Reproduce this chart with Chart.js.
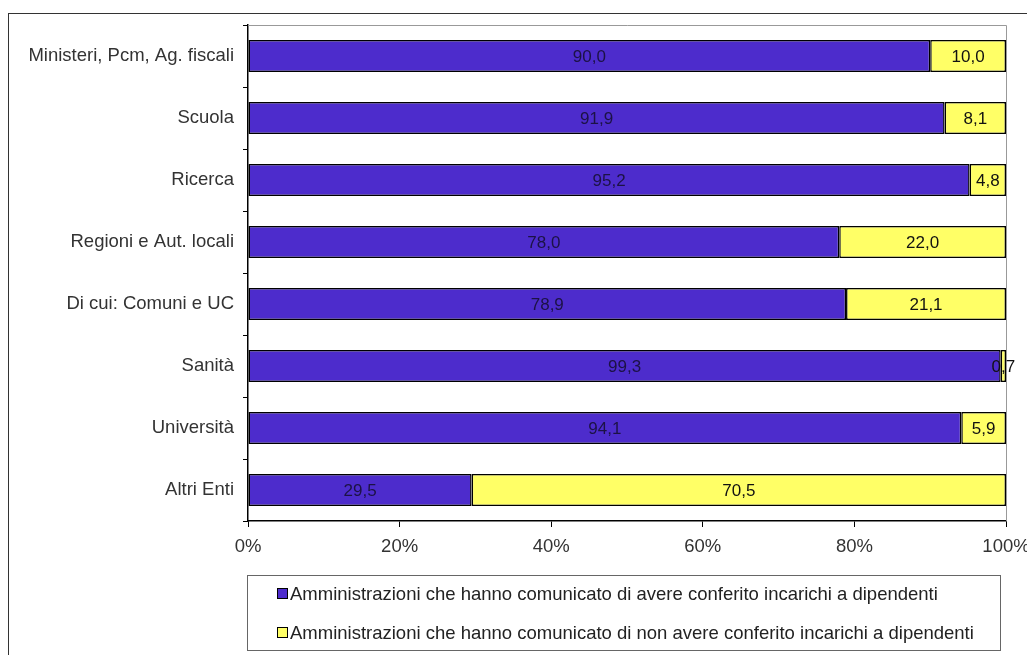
<!DOCTYPE html>
<html>
<head>
<meta charset="utf-8">
<script src="https://cdn.jsdelivr.net/npm/chart.js@4.4.0/dist/chart.umd.min.js"></script>
<style>
  body { margin: 0; background: #fff; font-family: "Liberation Sans", Arial, sans-serif; }
  #wrap { position: relative; width: 1027px; height: 655px; overflow: hidden; }
  #frame { position: absolute; left: 8px; top: 13px; width: 1100px; height: 700px;
           border-left: 1.5px solid #333; border-top: 1.5px solid #333; }
  #legend { position: absolute; left: 247px; top: 575px; width: 754px; height: 76px;
            border: 1px solid #666; box-sizing: border-box; padding: 6px 0 0 29px; }
  .item { height: 39px; line-height: 24px; font-size: 18.5px; color: #222; white-space: nowrap; }
  .sw { display: inline-block; width: 9px; height: 9px; border: 1.5px solid #000; margin-right: 2px; vertical-align: 1px; }
</style>
</head>
<body>
<div id="wrap">
  <div id="frame"></div>
  <canvas id="myChart" width="1027" height="655"></canvas>
  <div id="legend"></div>
</div>
<script>
var categories = ["Ministeri, Pcm, Ag. fiscali", "Scuola", "Ricerca", "Regioni e Aut. locali",
  "Di cui: Comuni e UC", "Sanità", "Università", "Altri Enti"];
var conferito = [90.0, 91.9, 95.2, 78.0, 78.9, 99.3, 94.1, 29.5];
var nonConferito = [10.0, 8.1, 4.8, 22.0, 21.1, 0.7, 5.9, 70.5];
var seriesNames = ["Amministrazioni che hanno comunicato di avere conferito incarichi a dipendenti",
  "Amministrazioni che hanno comunicato di non avere conferito incarichi a dipendenti"];
var xTicks = [0, 20, 40, 60, 80, 100];

var purple = "#4d2ccc";
var yellow = "#ffff66";
var font = "'Liberation Sans', Arial, sans-serif";

// etichette al centro di ogni segmento
var valueLabels = {
  id: "valueLabels",
  afterDatasetsDraw: function(chart) {
    var ctx = chart.ctx;
    ctx.save();
    ctx.font = "17px " + font;
    ctx.textAlign = "center";
    ctx.textBaseline = "middle";
    chart.data.datasets.forEach(function(ds, i) {
      var meta = chart.getDatasetMeta(i);
      meta.data.forEach(function(bar, j) {
        var cx = (bar.x + bar.base) / 2;
        ctx.fillStyle = i === 0 ? "#1c1245" : "#111";
        ctx.fillText(ds.data[j].toFixed(1).replace(".", ","), cx, bar.y + 1);
      });
    });
    ctx.restore();
  }
};

// bordo grigio sopra e a destra dell'area del grafico
var plotBorder = {
  id: "plotBorder",
  beforeDatasetsDraw: function(chart) {
    var a = chart.chartArea;
    var ctx = chart.ctx;
    ctx.save();
    ctx.strokeStyle = "#999";
    ctx.lineWidth = 1;
    ctx.beginPath();
    ctx.moveTo(a.left, a.top + 0.5);
    ctx.lineTo(a.right + 0.5, a.top + 0.5);
    ctx.lineTo(a.right + 0.5, a.bottom);
    ctx.stroke();
    ctx.restore();
  }
};

var ctx = document.getElementById("myChart").getContext("2d");
var chart = new Chart(ctx, {
  type: "bar",
  data: {
    labels: categories,
    datasets: [{
      label: seriesNames[0],
      data: conferito,
      backgroundColor: purple,
      borderColor: "#000",
      borderWidth: 1.5,
      borderSkipped: false,
      barPercentage: 0.52,
      categoryPercentage: 1
    }, {
      label: seriesNames[1],
      data: nonConferito,
      backgroundColor: yellow,
      borderColor: "#000",
      borderWidth: 1.5,
      borderSkipped: false,
      barPercentage: 0.52,
      categoryPercentage: 1
    }]
  },
  plugins: [plotBorder, valueLabels],
  options: {
    indexAxis: "y",
    responsive: false,
    animation: false,
    layout: { padding: { left: 10, right: 21, top: 25, bottom: 94 } },
    plugins: {
      legend: { display: false },
      tooltip: { enabled: false }
    },
    scales: {
      x: {
        stacked: true,
        min: 0,
        max: 100,
        afterFit: function(scale) {
          scale.height = 40;
          scale.paddingLeft = 0;
          scale.paddingRight = 0;
        },
        afterBuildTicks: function(scale) {
          scale.ticks = xTicks.map(function(v) { return { value: v }; });
        },
        ticks: {
          callback: function(v) { return v + "%"; },
          font: { family: font, size: 18.5 },
          color: "#333",
          padding: 9,
          maxRotation: 0
        },
        grid: { drawOnChartArea: false, tickLength: 6, color: "#000" },
        border: { color: "#000", width: 1.5 }
      },
      y: {
        stacked: true,
        afterFit: function(scale) { scale.width = 238; },
        ticks: {
          font: { family: font, size: 18.5 },
          color: "#333",
          padding: 9
        },
        grid: { drawOnChartArea: false, offset: true, tickLength: 5, color: "#000" },
        border: { color: "#000", width: 1.5 }
      }
    }
  }
});

// legenda
var legend = document.getElementById("legend");
[purple, yellow].forEach(function(c, i) {
  var d = document.createElement("div");
  d.className = "item";
  d.innerHTML = '<span class="sw" style="background:' + c + '"></span>' + seriesNames[i];
  legend.appendChild(d);
});
</script>
</body>
</html>
